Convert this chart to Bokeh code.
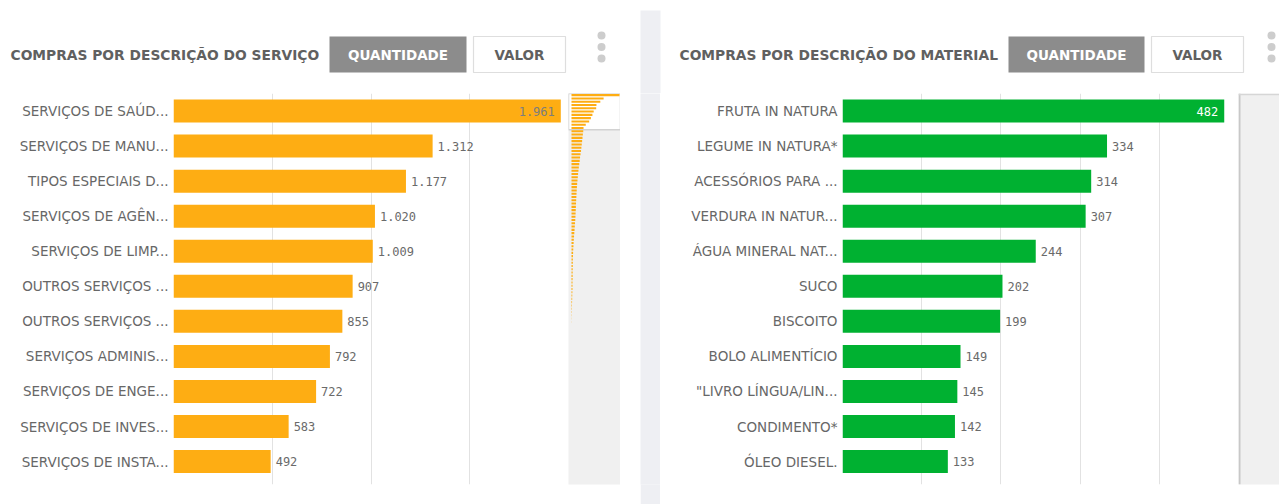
from bokeh.plotting import figure
from bokeh.layouts import column, row
from bokeh.models import Range1d, FixedTicker, ColumnDataSource, Span
from bokeh.core.properties import value
from bokeh.embed import file_html
from bokeh.resources import INLINE

# ---------------- data ----------------
TITLE_L = "COMPRAS POR DESCRIÇÃO DO SERVIÇO"
TITLE_R = "COMPRAS POR DESCRIÇÃO DO MATERIAL"
BTN_ACTIVE = "QUANTIDADE"
BTN_OTHER = "VALOR"

serv_labels = [
    "SERVIÇOS DE SAÚD...",
    "SERVIÇOS DE MANU...",
    "TIPOS ESPECIAIS D...",
    "SERVIÇOS DE AGÊN...",
    "SERVIÇOS DE LIMP...",
    "OUTROS SERVIÇOS ...",
    "OUTROS SERVIÇOS ...",
    "SERVIÇOS ADMINIS...",
    "SERVIÇOS DE ENGE...",
    "SERVIÇOS DE INVES...",
    "SERVIÇOS DE INSTA...",
]
serv_values = [1961, 1312, 1177, 1020, 1009, 907, 855, 792, 722, 583, 492]

# remaining services, estimated from the scrollbar mini-chart
serv_tail = [480, 465, 450, 435, 420, 405,
             390, 370, 350, 335, 318, 300,
             285, 270, 258, 245, 232,
             222, 214, 206, 199, 192,
             186, 180, 174, 168, 163,
             155, 145, 135, 125, 115, 105,
             95, 87, 80, 73, 66, 60,
             57, 55, 52, 50, 48, 46, 44, 42, 41, 40,
             36, 32, 28, 24, 20, 16,
             12, 9, 6, 4]
serv_total_count = 119

mat_labels = [
    "FRUTA IN NATURA",
    "LEGUME IN NATURA*",
    "ACESSÓRIOS PARA ...",
    "VERDURA IN NATUR...",
    "ÁGUA MINERAL NAT...",
    "SUCO",
    "BISCOITO",
    "BOLO ALIMENTÍCIO",
    "\"LIVRO LÍNGUA/LIN...",
    "CONDIMENTO*",
    "ÓLEO DIESEL.",
]
mat_values = [482, 334, 314, 307, 244, 202, 199, 149, 145, 142, 133]

ORANGE = "#FEAD13"
GREEN = "#00B131"
LABEL_FONT = "DejaVu Sans"
NUM_FONT = "DejaVu Sans Mono"
TITLE_FONT = "DejaVu Sans"
TXT = "#606060"
DIV = "#eeeff3"


def br(v):
    return f"{v:,}".replace(",", ".")


def main_chart(labels, values, xmax, step, color, inside_color, width, left):
    n = len(labels)
    p = figure(width=width, height=411,
               x_range=Range1d(0, xmax), y_range=Range1d(n - 0.5 + 0.154, -0.5),
               x_axis_location=None, y_axis_location="left",
               toolbar_location=None, output_backend="svg",
               min_border_left=left, min_border_right=0,
               min_border_top=0, min_border_bottom=20)
    p.outline_line_color = None
    p.background_fill_color = "white"
    p.border_fill_color = "white"
    p.xgrid.ticker = FixedTicker(ticks=list(range(0, xmax + 1, step)))
    p.xgrid.grid_line_color = "#e2e2e2"
    p.xgrid.grid_line_width = 1
    p.ygrid.visible = False

    idx = list(range(n))
    p.hbar(y=idx, left=0, right=values, height=0.656,
           fill_color=color, line_color=None)

    ax = p.yaxis[0]
    ax.ticker = FixedTicker(ticks=idx)
    ax.major_label_overrides = {i: lab for i, lab in enumerate(labels)}
    ax.axis_line_color = None
    ax.major_tick_line_color = None
    ax.minor_tick_line_color = None
    ax.major_tick_out = 0
    ax.major_tick_in = 0
    ax.major_label_standoff = 5
    ax.major_label_text_font = LABEL_FONT
    ax.major_label_text_font_size = "13.5px"
    ax.major_label_text_color = "#676767"

    ins = [i for i, v in enumerate(values) if v > 0.85 * xmax]
    out = [i for i, v in enumerate(values) if v <= 0.85 * xmax]
    src_in = ColumnDataSource(dict(x=[values[i] for i in ins], y=ins,
                                   t=[br(values[i]) for i in ins]))
    src_out = ColumnDataSource(dict(x=[values[i] for i in out], y=out,
                                    t=[br(values[i]) for i in out]))
    p.text(x="x", y="y", text="t", source=src_out, x_offset=5,
           text_align="left", text_baseline="middle",
           text_font=value(NUM_FONT), text_font_size="12px", text_color="#6a6a6a")
    p.text(x="x", y="y", text="t", source=src_in, x_offset=-6,
           text_align="right", text_baseline="middle",
           text_font=value(NUM_FONT), text_font_size="12px", text_color=inside_color)
    return p


def plain(width, height, bg, bottom=0):
    f = figure(width=width, height=height, x_range=Range1d(0, 1), y_range=Range1d(0, 1),
               x_axis_location=None, y_axis_location=None,
               toolbar_location=None, output_backend="svg",
               min_border_left=0, min_border_right=0, min_border_top=0,
               min_border_bottom=bottom)
    f.xgrid.visible = False
    f.ygrid.visible = False
    f.outline_line_color = None
    f.background_fill_color = bg
    f.border_fill_color = bg
    return f


# ---------------- header ----------------
h = figure(width=1279, height=93, x_range=Range1d(0, 1279), y_range=Range1d(93, 0),
           x_axis_location=None, y_axis_location=None,
           toolbar_location=None, output_backend="svg",
           min_border_left=0, min_border_right=0, min_border_top=0, min_border_bottom=0)
h.xgrid.visible = False
h.ygrid.visible = False
h.outline_line_color = None
h.background_fill_color = "white"
h.border_fill_color = "white"

# divider strip between the two panels
h.quad(left=[640], right=[660], top=[10], bottom=[93], fill_color=DIV, line_color=None)

panels = [
    dict(title=TITLE_L, tx=10, q=(329, 466), v=(473, 565), dots=601),
    dict(title=TITLE_R, tx=679, q=(1008, 1144), v=(1151, 1243), dots=1271),
]
for pn in panels:
    h.text(x=[pn["tx"]], y=[54], text=[pn["title"]], text_align="left",
           text_baseline="middle", text_font=value(TITLE_FONT),
           text_font_style="bold", text_font_size="13.8px", text_color=TXT)
    h.quad(left=[pn["q"][0]], right=[pn["q"][1]], top=[36], bottom=[72],
           fill_color="#8c8c8c", line_color=None)
    h.text(x=[(pn["q"][0] + pn["q"][1]) / 2], y=[54], text=[BTN_ACTIVE],
           text_align="center", text_baseline="middle", text_font=value(TITLE_FONT),
           text_font_style="bold", text_font_size="13.5px", text_color="white")
    h.quad(left=[pn["v"][0]], right=[pn["v"][1]], top=[36], bottom=[72],
           fill_color="white", line_color="#dedede", line_width=1.2)
    h.text(x=[(pn["v"][0] + pn["v"][1]) / 2], y=[54], text=[BTN_OTHER],
           text_align="center", text_baseline="middle", text_font=value(TITLE_FONT),
           text_font_style="bold", text_font_size="13.5px", text_color=TXT)
    h.scatter(x=[pn["dots"]] * 3, y=[35, 46.5, 58], size=8,
              fill_color="#cdcdcd", line_color=None)

# ---------------- left panel ----------------
left_main = main_chart(serv_labels, serv_values, 2000, 500, ORANGE, "#7d7d7d", 568, 173)

all_serv = serv_values + serv_tail
mini = figure(width=52, height=411, x_range=Range1d(-122, 2002),
              y_range=Range1d(serv_total_count, 0),
              x_axis_location=None, y_axis_location=None,
              toolbar_location=None, output_backend="svg",
              min_border_left=0, min_border_right=0, min_border_top=0, min_border_bottom=20)
mini.xgrid.visible = False
mini.ygrid.visible = False
mini.outline_line_color = None
mini.background_fill_color = "#f0f0f0"
mini.border_fill_color = "white"
mini.quad(left=[-122], right=[2002], top=[0], bottom=[len(serv_values)],
          fill_color="white", line_color="#d2d2d2", line_width=1.5)
mini.hbar(y=[i + 0.5 for i in range(len(all_serv))], left=0, right=all_serv,
          height=0.62, fill_color=ORANGE, line_color=None)

gap = plain(20, 411, "white")
divider = plain(20, 411, DIV)

# ---------------- right panel ----------------
right_main = main_chart(mat_labels, mat_values, 500, 100, GREEN, "#ffffff", 578, 182)

rmini = figure(width=41, height=411, x_range=Range1d(0, 41), y_range=Range1d(391, 0),
               x_axis_location=None, y_axis_location=None,
               toolbar_location=None, output_backend="svg",
               min_border_left=0, min_border_right=0, min_border_top=0, min_border_bottom=20)
rmini.xgrid.visible = False
rmini.ygrid.visible = False
rmini.outline_line_color = None
rmini.background_fill_color = "#f0f0f0"
rmini.border_fill_color = "white"
rmini.add_layout(Span(location=1, dimension="height", line_color="#c8c8c8", line_width=2))
rmini.add_layout(Span(location=1, dimension="width", line_color="#d6d6d6", line_width=1.5))

layout = column(h, row(left_main, mini, gap, divider, right_main, rmini))

open("out.html", "w").write(file_html(layout, INLINE))
